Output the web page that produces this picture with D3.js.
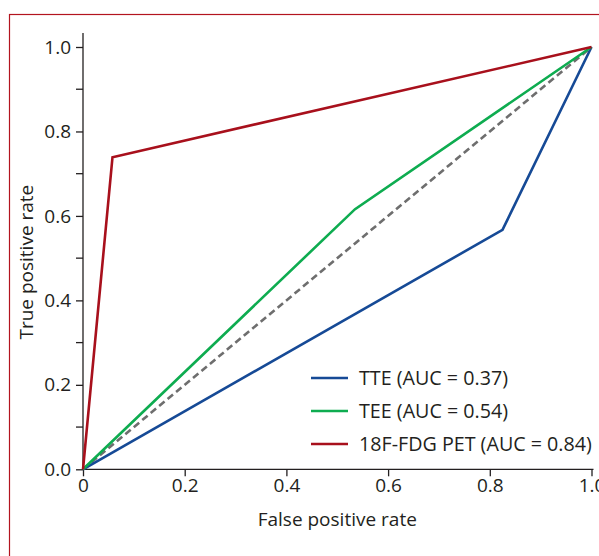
<!DOCTYPE html>
<html>
<head>
<meta charset="utf-8">
<script src="https://cdn.jsdelivr.net/npm/d3@7"></script>
<style>
  html, body { margin: 0; padding: 0; background: #fff; overflow: hidden; }
  svg { display: block; }
  text { font-family: "Open Sans", sans-serif; fill: #231f20; }
</style>
</head>
<body>
<div id="chart"></div>
<script>
// ---- data ----
const seriesNames = ["TTE (AUC = 0.37)", "TEE (AUC = 0.54)", "18F-FDG PET (AUC = 0.84)"];
const seriesColors = ["#164a96", "#0eac50", "#a8101c"];
const tteFPR = [0, 0.825, 1];
const tteTPR = [0, 0.567, 1];
const teeFPR = [0, 0.535, 1];
const teeTPR = [0, 0.616, 1];
const petFPR = [0, 0.058, 1];
const petTPR = [0, 0.739, 1];
const refFPR = [0, 1];
const refTPR = [0, 1];
const xTicks = [0, 0.2, 0.4, 0.6, 0.8, 1.0];
const xTickLabels = ["0", "0.2", "0.4", "0.6", "0.8", "1.0"];
const yTicks = [0, 0.2, 0.4, 0.6, 0.8, 1.0];
const yMinorTicks = [0.1, 0.3, 0.5, 0.7, 0.9];
const xTitle = "False positive rate";
const yTitle = "True positive rate";

// ---- layout ----
const W = 599, H = 556;
const x0 = 83, x1 = 591.5, y0 = 469.3, y1 = 47;
const FS = "19px";

const svg = d3.select("#chart").append("svg").attr("width", W).attr("height", H);

// frame border
svg.append("rect")
  .attr("x", 9.5).attr("y", 14.5).attr("width", 620).attr("height", 600)
  .attr("fill", "none").attr("stroke", "#b3141f").attr("stroke-width", 1.2);

const x = d3.scaleLinear().domain([0, 1]).range([x0, x1]);
const y = d3.scaleLinear().domain([0, 1]).range([y0, y1]);

// x axis
const xAxis = d3.axisBottom(x).tickValues(xTicks)
  .tickFormat((d, i) => xTickLabels[i]).tickSize(7).tickSizeOuter(0).tickPadding(2);
const gx = svg.append("g").attr("transform", `translate(0,${y0})`).call(xAxis);
gx.select(".domain").attr("d", `M${x0},0H${x1 + 2}`);
gx.selectAll("line, path").attr("stroke", "#231f20").attr("stroke-width", 1.3);
gx.selectAll("text").style("font-size", FS).attr("fill", "#231f20");

// y axis
const yAxis = d3.axisLeft(y).tickValues(yTicks)
  .tickFormat(d3.format(".1f")).tickSize(7).tickSizeOuter(0).tickPadding(5);
const gy = svg.append("g").attr("transform", `translate(${x0},0)`).call(yAxis);
gy.select(".domain").attr("d", `M0,${y0}V${y1 - 14}`);
gy.selectAll("line, path").attr("stroke", "#231f20").attr("stroke-width", 1.3);
gy.selectAll("text").style("font-size", FS).attr("fill", "#231f20");
gy.selectAll(".minor").data(yMinorTicks).enter().append("line")
  .attr("class", "minor").attr("x1", -7).attr("x2", 0)
  .attr("y1", d => y(d)).attr("y2", d => y(d))
  .attr("stroke", "#231f20").attr("stroke-width", 1.3);

// axis titles
svg.append("text").attr("x", (x0 + x1) / 2).attr("y", 526)
  .attr("text-anchor", "middle").style("font-size", FS).text(xTitle);
svg.append("text").attr("transform", `translate(33,${(y0 + y1) / 2 + 4}) rotate(-90)`)
  .attr("text-anchor", "middle").style("font-size", FS).text(yTitle);

// lines
const line = d3.line().x(d => x(d[0])).y(d => y(d[1]));
const zip = (a, b) => a.map((v, i) => [v, b[i]]);

svg.append("path").datum(zip(refFPR, refTPR)).attr("d", line)
  .attr("fill", "none").attr("stroke", "#6e6e6e").attr("stroke-width", 2.6)
  .attr("stroke-dasharray", "7,4");

const seriesData = [zip(tteFPR, tteTPR), zip(teeFPR, teeTPR), zip(petFPR, petTPR)];
seriesData.forEach((d, i) => {
  svg.append("path").datum(d).attr("d", line)
    .attr("fill", "none").attr("stroke", seriesColors[i]).attr("stroke-width", 2.6)
    .attr("stroke-linejoin", "miter");
});

// legend
const legY = [378, 411, 444];
const leg = svg.append("g");
seriesNames.forEach((name, i) => {
  leg.append("line").attr("x1", 311).attr("x2", 348)
    .attr("y1", legY[i]).attr("y2", legY[i])
    .attr("stroke", seriesColors[i]).attr("stroke-width", 2.6);
  leg.append("text").attr("x", 359).attr("y", legY[i]).attr("dy", "0.35em")
    .style("font-size", "19.7px").text(name);
});
</script>
</body>
</html>
